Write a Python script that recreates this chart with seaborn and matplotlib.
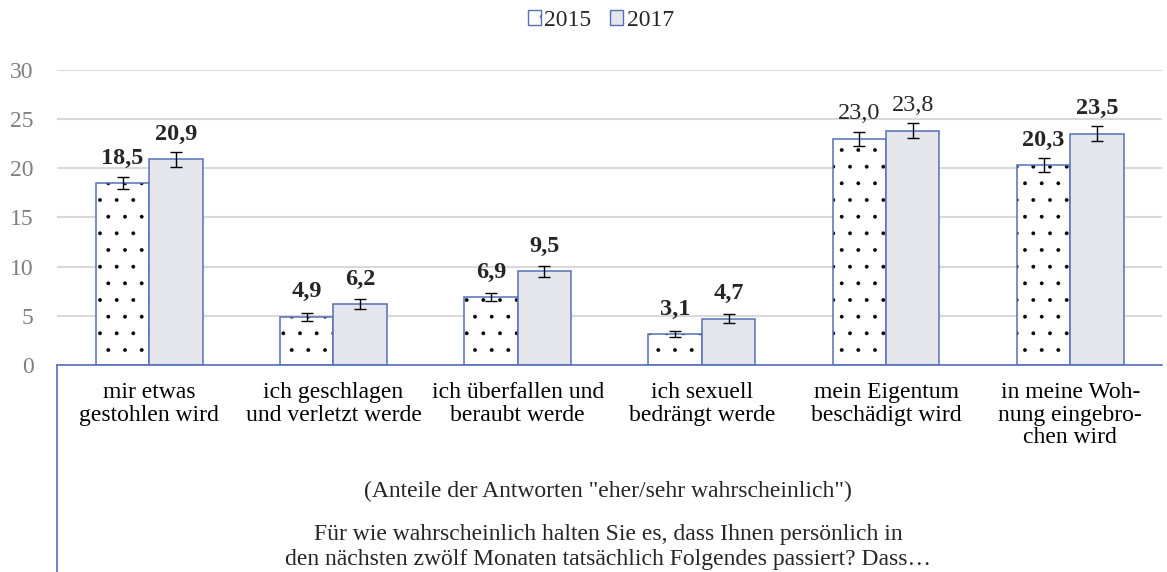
import matplotlib.pyplot as plt
import seaborn as sns
import pandas as pd
from matplotlib.patches import Patch

categories = [
    "mir etwas\ngestohlen wird",
    "ich geschlagen\nund verletzt werde",
    "ich überfallen und\nberaubt werde",
    "ich sexuell\nbedrängt werde",
    "mein Eigentum\nbeschädigt wird",
    "in meine Woh-\nnung eingebro-\nchen wird",
]
years = ["2015", "2017"]
values_2015 = [18.5, 4.9, 6.9, 3.1, 23.0, 20.3]
values_2017 = [20.9, 6.2, 9.5, 4.7, 23.8, 23.5]
err_2015 = [0.65, 0.4, 0.45, 0.3, 0.7, 0.7]
err_2017 = [0.75, 0.5, 0.55, 0.45, 0.75, 0.75]
bold_2015 = [True, True, True, True, False, True]
bold_2017 = [True, True, True, True, False, True]
yticks = [0, 5, 10, 15, 20, 25, 30]

note = '(Anteile der Antworten "eher/sehr wahrscheinlich")'
question_lines = [
    "Für wie wahrscheinlich halten Sie es, dass Ihnen persönlich in",
    "den nächsten zwölf Monaten tatsächlich Folgendes passiert? Dass…",
]

df = pd.DataFrame({
    "Kategorie": categories * 2,
    "Jahr": [years[0]] * len(categories) + [years[1]] * len(categories),
    "Wert": values_2015 + values_2017,
})

sns.set_style("white")
plt.rcParams["font.family"] = ["Liberation Serif", "DejaVu Serif"]
plt.rcParams["hatch.linewidth"] = 0.3

EDGE = "#5470b8"
FILL17 = "#e4e6ec"
FS = 17

fig = plt.figure(figsize=(11.67, 5.72), dpi=100)
ax = fig.add_axes([0.049, 0.362, 0.947, 0.516])

sns.barplot(data=df, x="Kategorie", y="Wert", hue="Jahr", hue_order=years,
            palette=["white", FILL17], saturation=1, width=0.58,
            edgecolor=EDGE, linewidth=1.1, legend=False, ax=ax)

errs = [err_2015, err_2017]
vals = [values_2015, values_2017]
bolds = [bold_2015, bold_2017]
bar_containers = list(ax.containers)
for k, cont in enumerate(bar_containers):
    for i, bar in enumerate(cont):
        if k == 0:
            bar.set_hatch(".")
            if hasattr(bar, "set_hatchcolor"):
                bar.set_hatchcolor("black")
            else:
                bar._hatch_color = (0, 0, 0, 1)
        xc = bar.get_x() + bar.get_width() / 2
        ax.errorbar(xc, vals[k][i], yerr=errs[k][i], fmt="none",
                    ecolor="black", elinewidth=1, capsize=4.5, capthick=1)
        ax.annotate(f"{vals[k][i]:.1f}".replace(".", ","), (xc, vals[k][i]),
                    xytext=(0, 14), textcoords="offset points",
                    ha="center", va="baseline", fontsize=17.5,
                    fontweight="bold" if bolds[k][i] else "normal")

ax.set_ylim(0, 30)
ax.set_xlim(-0.5, len(categories) - 0.5)
ax.set_yticks(yticks)
ax.yaxis.grid(True, color="#d9d9d9", linewidth=1.5)
ax.set_axisbelow(True)
ax.set_xlabel("")
ax.set_ylabel("")
ax.tick_params(axis="y", labelsize=FS, labelcolor="#7f7f7f", length=0, pad=17)
ax.tick_params(axis="x", labelsize=FS, labelcolor="black", length=0, pad=12)
for lab in ax.get_xticklabels():
    lab.set_linespacing(1.12)

for side in ["top", "right", "left"]:
    ax.spines[side].set_visible(False)
ax.spines["bottom"].set_color(EDGE)
ax.spines["bottom"].set_linewidth(1.2)
ax.plot([0, 0], [0, -0.71], transform=ax.transAxes, color=EDGE,
        linewidth=1.2, clip_on=False)

handles = [Patch(facecolor="white", edgecolor=EDGE, hatch=".", label=years[0]),
           Patch(facecolor=FILL17, edgecolor=EDGE, label=years[1])]
fig.legend(handles=handles, loc="upper center", bbox_to_anchor=(0.515, 1.02),
           ncol=2, frameon=False, fontsize=FS, handlelength=0.55,
           handleheight=0.55, handletextpad=0.15, columnspacing=0.8)

fig.text(0.521, 0.141, note, ha="center", va="center", fontsize=FS)
for j, line in enumerate(question_lines):
    fig.text(0.521, 0.056 - j * 0.043, line, ha="center", va="baseline",
             fontsize=FS)

fig.savefig("out.png", dpi=100)
plt.close(fig)
